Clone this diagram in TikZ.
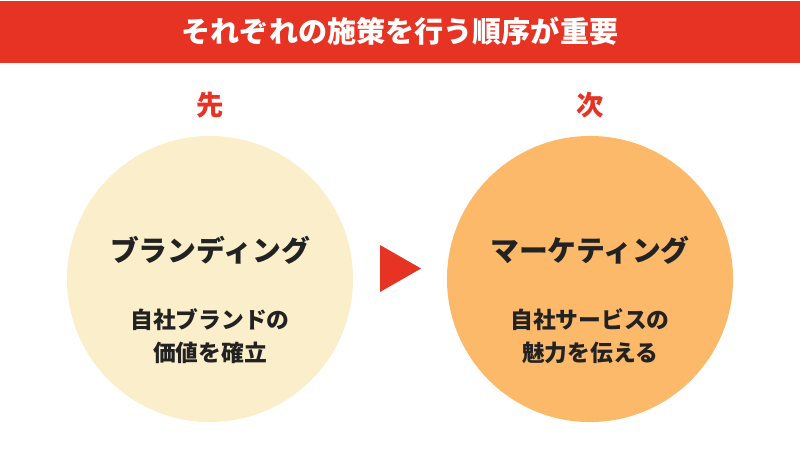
\documentclass[tikz,border=0pt]{standalone}
\usepackage{fontspec}
\setmainfont{Noto Sans CJK JP}
\usepackage{tikz}
\usetikzlibrary{positioning, calc}

\definecolor{bannerred}{HTML}{E63324}
\definecolor{creamfill}{HTML}{FBEFCB}
\definecolor{orangefill}{HTML}{FDB96A}
\definecolor{inkdark}{HTML}{222222}

\begin{document}
\begin{tikzpicture}[x=0.025cm, y=-0.025cm,
    stagelabel/.style={text=bannerred, font=\fontsize{19.5}{22}\selectfont\bfseries},
    stagecircle/.style={circle, minimum size=7.15cm, inner sep=0pt},
    stagetitle/.style={text=inkdark, font=\fontsize{20.5}{24}\selectfont\bfseries},
    stagetext/.style={text=inkdark, align=center, font=\fontsize{16.2}{23.5}\selectfont\bfseries}]

      \useasboundingbox (0,0) rectangle (800,450);

      % --- Top Banner ---
      \fill[bannerred] (0,1) rectangle (800,63);
      \node[text=white, font=\fontsize{20.7}{24}\selectfont\bfseries] (heading) at (400,31) {それぞれの施策を行う順序が重要};

      % --- Stage Circles ---
      \node[stagecircle, fill=creamfill] (branding) at (210,279) {};
      \node[stagecircle, fill=orangefill] (marketing) at (590,279) {};

      % Order labels above each circle
      \node[stagelabel] (first) at (210,105) {先};
      \node[stagelabel] (next) at (590,105) {次};

      % Circle contents
      \node[stagetitle] (brandtitle) at (210,250) {ブランディング};
      \node[stagetext] (brandtext) at (210,336) {自社ブランドの\\価値を確立};
      \node[stagetitle] (markettitle) at (590,250) {マーケティング};
      \node[stagetext] (markettext) at (590,336) {自社サービスの\\魅力を伝える};

      % --- Direction Marker ---
      \fill[bannerred] (380,245) -- (421,268.5) -- (380,292) -- cycle;

\end{tikzpicture}
\end{document}
